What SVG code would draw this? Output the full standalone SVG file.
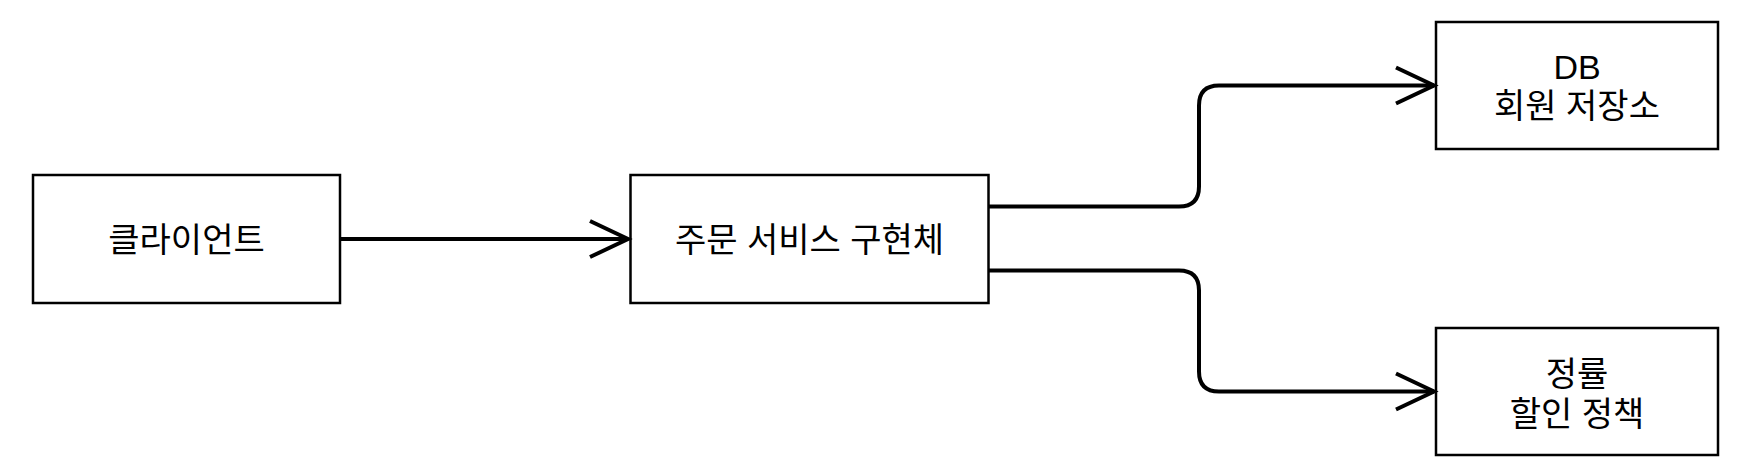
<svg xmlns="http://www.w3.org/2000/svg" width="1740" height="474" viewBox="0 0 1740 474">
<style>
.box{fill:#fff;stroke:#000;stroke-width:2.5}
.t{font-family:"Liberation Sans","Noto Sans CJK KR",sans-serif;font-size:34px;fill:#000;text-anchor:middle}
.c{fill:none;stroke:#000;stroke-width:4;stroke-linejoin:round}
.ah{fill:none;stroke:#000;stroke-width:4;stroke-linecap:butt}
</style>
<rect width="1740" height="474" fill="#fff"/>
<g id="client">
<rect class="box" x="33" y="175" width="307" height="128"/>
<text class="t" x="186.5" y="252">클라이언트</text>
</g>
<g id="orderService">
<rect class="box" x="630.5" y="175" width="358" height="128"/>
<text class="t" x="809.5" y="252">주문 서비스 구현체</text>
</g>
<g id="memberRepo">
<rect class="box" x="1436" y="22" width="282" height="127"/>
<text class="t" x="1577" y="79">DB</text>
<text class="t" x="1577" y="118">회원 저장소</text>
</g>
<g id="discountPolicy">
<rect class="box" x="1436" y="328" width="282" height="127"/>
<text class="t" x="1577" y="386">정률</text>
<text class="t" x="1577" y="426">할인 정책</text>
</g>
<g id="connectors">
<path class="c" d="M340 239 H628"/>
<path class="ah" d="M590 221 L628 239 L590 257"/>
<path class="c" d="M989 206.5 H1179 Q1199 206.5 1199 186.5 V105.5 Q1199 85.5 1219 85.5 H1434"/>
<path class="ah" d="M1396 67.5 L1434 85.5 L1396 103.5"/>
<path class="c" d="M989 270.5 H1179 Q1199 270.5 1199 290.5 V371.5 Q1199 391.5 1219 391.5 H1434"/>
<path class="ah" d="M1396 373.5 L1434 391.5 L1396 409.5"/>
</g>
</svg>
